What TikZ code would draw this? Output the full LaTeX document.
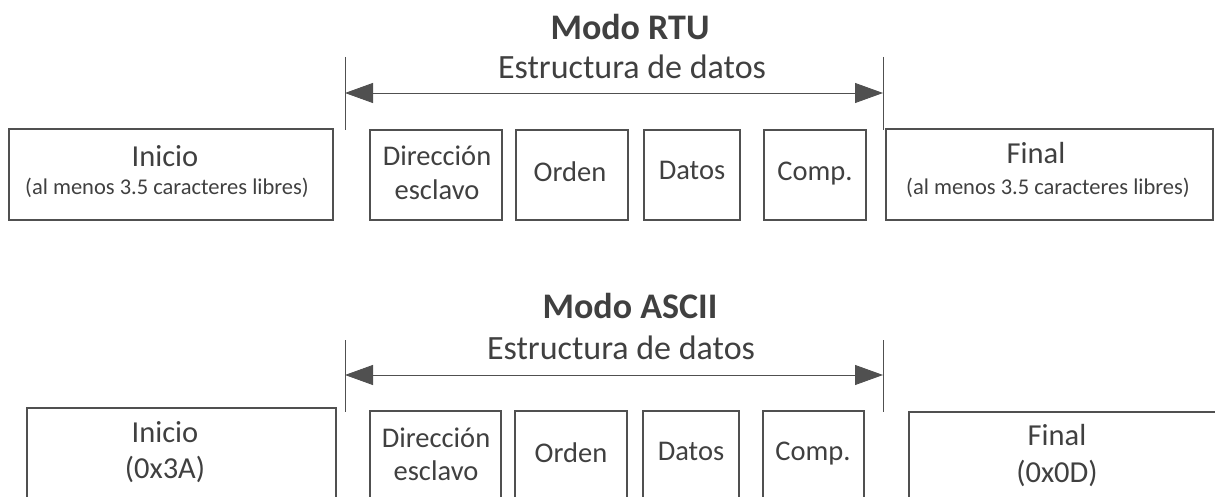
\documentclass[tikz,border=0pt]{standalone}
\usepackage{fontspec}
\setmainfont{Carlito}
\usetikzlibrary{arrows.meta}
\definecolor{txtc}{HTML}{404040}
\definecolor{linec}{HTML}{505050}
\tikzset{
  box/.style={draw=linec, line width=1.1pt, rectangle, inner sep=0pt},
  lbl/.style={text=txtc, inner sep=0pt, anchor=base},
  big/.style={font=\fontsize{28.5}{34}\selectfont},
  huge/.style={font=\fontsize{30.5}{36}\selectfont},
  small/.style={font=\fontsize{22.5}{27}\selectfont},
  ttl/.style={text=txtc, inner sep=0pt, anchor=base, font=\fontsize{36}{42}\selectfont\bfseries},
  sub/.style={text=txtc, inner sep=0pt, anchor=base, font=\fontsize{34}{40}\selectfont},
  dimline/.style={draw=linec, line width=0.9pt, {Triangle[length=28pt,width=20pt]}-{Triangle[length=28pt,width=20pt]}},
  tick/.style={draw=linec, line width=0.9pt},
}
\newcommand{\boxat}[5]{% name, x1, y1, x2, y2
  \node[box, minimum width={(#4-#2)*1pt}, minimum height={(#5-#3)*1pt}] (#1) at ({(#2+#4)/2},{(#3+#5)/2}) {};}
\begin{document}
\begin{tikzpicture}[x=1pt,y=-1pt]
\useasboundingbox (0,0) rectangle (1215,497);
% ---------- RTU ----------
\node[ttl] (t1) at (630,40) {Modo RTU};
\node[sub] (s1) at (632,79) {Estructura de datos};
\coordinate (l1t) at (345,57); \coordinate (l1b) at (345,130);
\coordinate (r1t) at (883,57); \coordinate (r1b) at (883,130);
\draw[tick] (l1t) -- (l1b);
\draw[tick] (r1t) -- (r1b);
\coordinate (a1l) at (345,93); \coordinate (a1r) at (883,93);
\draw[dimline] (a1l) -- (a1r);
\boxat{ini1}{9}{129}{333}{220}
\boxat{dir1}{370}{130}{502}{220}
\boxat{ord1}{516}{130}{628}{220}
\boxat{dat1}{644}{130}{740}{220}
\boxat{com1}{764}{130}{866}{220}
\boxat{fin1}{886}{129}{1213}{220}
\node[lbl,huge] (ini1a) at (165,167) {Inicio};
\node[lbl,small] (ini1b) at (167,195) {(al menos 3.5 caracteres libres)};
\node[lbl,big] (dir1a) at (437,166) {Dirección};
\node[lbl,big] (dir1b) at (437,200) {esclavo};
\node[lbl,big] (ord1a) at (570,182) {Orden};
\node[lbl,big] (dat1a) at (692,180) {Datos};
\node[lbl,big] (com1a) at (815,181) {Comp.};
\node[lbl,huge] (fin1a) at (1036,164) {Final};
\node[lbl,small] (fin1b) at (1048,195) {(al menos 3.5 caracteres libres)};
% ---------- ASCII ----------
\node[ttl] (t2) at (630,318) {Modo ASCII};
\node[sub] (s2) at (621,359) {Estructura de datos};
\coordinate (l2t) at (345,340); \coordinate (l2b) at (345,412);
\coordinate (r2t) at (883,340); \coordinate (r2b) at (883,412);
\draw[tick] (l2t) -- (l2b);
\draw[tick] (r2t) -- (r2b);
\coordinate (a2l) at (345,375); \coordinate (a2r) at (883,375);
\draw[dimline] (a2l) -- (a2r);
\boxat{ini2}{27}{408}{336}{510}
\boxat{dir2}{370}{411}{501}{510}
\boxat{ord2}{515}{411}{627}{510}
\boxat{dat2}{643}{411}{739}{510}
\boxat{com2}{763}{411}{864}{510}
\boxat{fin2}{909}{412}{1230}{510}
\node[lbl,huge] (ini2a) at (165,442) {Inicio};
\node[lbl,huge] (ini2b) at (165,478) {(0x3A)};
\node[lbl,big] (dir2a) at (436,447) {Dirección};
\node[lbl,big] (dir2b) at (436,480) {esclavo};
\node[lbl,big] (ord2a) at (571,462) {Orden};
\node[lbl,big] (dat2a) at (691,460) {Datos};
\node[lbl,big] (com2a) at (813,460) {Comp.};
\node[lbl,huge] (fin2a) at (1057,445) {Final};
\node[lbl,huge] (fin2b) at (1057,482) {(0x0D)};
\end{tikzpicture}
\end{document}
